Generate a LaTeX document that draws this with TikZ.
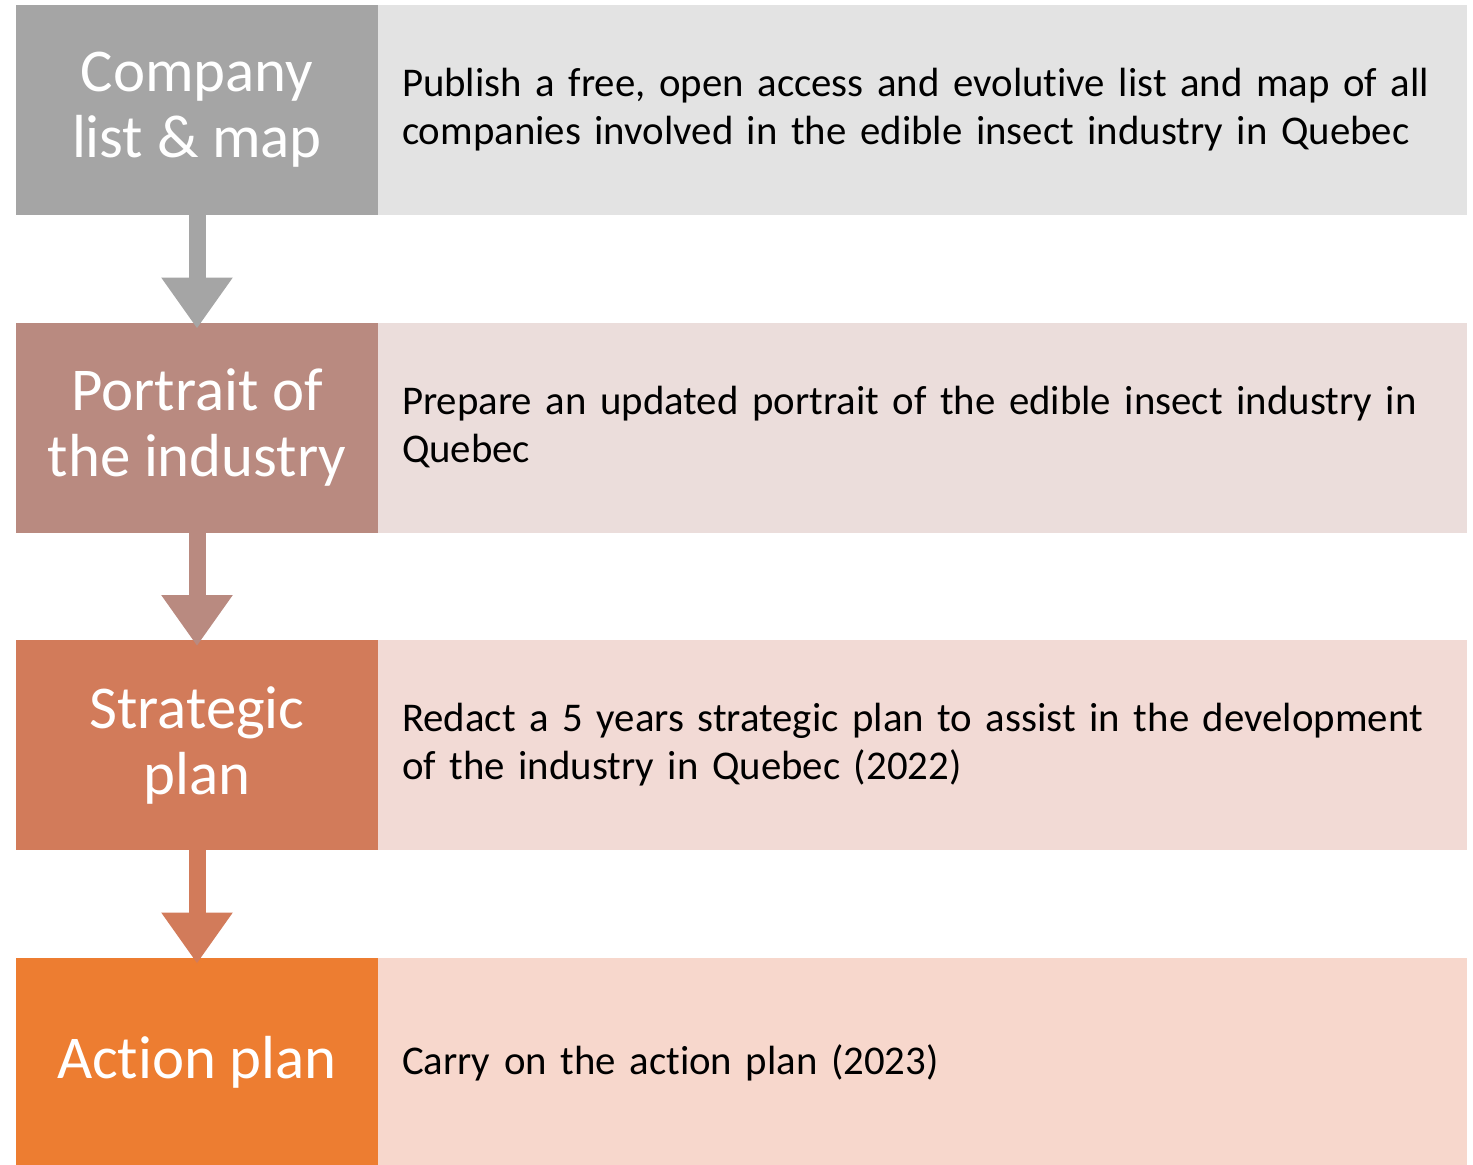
\documentclass[tikz,border=0pt]{standalone}
\usepackage{fontspec}
\setmainfont{Carlito}[Ligatures=NoCommon]
\usetikzlibrary{positioning,arrows.meta}
\definecolor{grayA}{HTML}{A5A5A5}
\definecolor{grayB}{HTML}{E3E3E3}
\definecolor{roseA}{HTML}{B98A80}
\definecolor{roseB}{HTML}{EBDDDB}
\definecolor{rustA}{HTML}{D27B5A}
\definecolor{rustB}{HTML}{F2DAD5}
\definecolor{orngA}{HTML}{ED7D31}
\definecolor{orngB}{HTML}{F7D7CC}
\begin{document}
\begin{tikzpicture}[x=0.5pt,y=-0.5pt,
  title/.style={rectangle,minimum width=181pt,minimum height=105pt,inner sep=0pt,outer sep=0pt,
    text=white,align=center,font=\fontsize{30.4}{33}\selectfont,node distance=53.75pt},
  descr/.style={rectangle,minimum height=105pt,text width=520.5pt,inner xsep=12pt,inner ysep=0pt,
    outer sep=0pt,align=left,font=\fontsize{20.4}{24}\selectfont,node distance=0pt},
  flow/.style={line width=8.5pt,-{Triangle[width=34pt,length=25.5pt]},shorten >=-3pt}]

        \useasboundingbox (0,0) rectangle (1473,1164);

        \node (t1) [title,fill=grayA,anchor=north west] at (16,5) {Company\\list \& map};
        \node (d1) [descr,fill=grayB,right = of t1] {Publish a free, open access and evolutive list and map of all\\companies involved in the edible insect industry in Quebec};

        \node (t2) [title,fill=roseA,below = of t1] {Portrait of\\the industry};
        \node (d2) [descr,fill=roseB,right = of t2] {Prepare an updated portrait of the edible insect industry in\\Quebec};

        \node (t3) [title,fill=rustA,below = of t2] {Strategic\\plan};
        \node (d3) [descr,fill=rustB,right = of t3] {Redact a 5 years strategic plan to assist in the development\\of the industry in Quebec (2022)};

        \node (t4) [title,fill=orngA,below = of t3] {Action plan};
        \node (d4) [descr,fill=orngB,right = of t4] {Carry on the action plan (2023)};

        \draw[flow,grayA] (t1) -- (t2);
        \draw[flow,roseA] (t2) -- (t3);
        \draw[flow,rustA] (t3) -- (t4);
      \end{tikzpicture}
\end{document}
